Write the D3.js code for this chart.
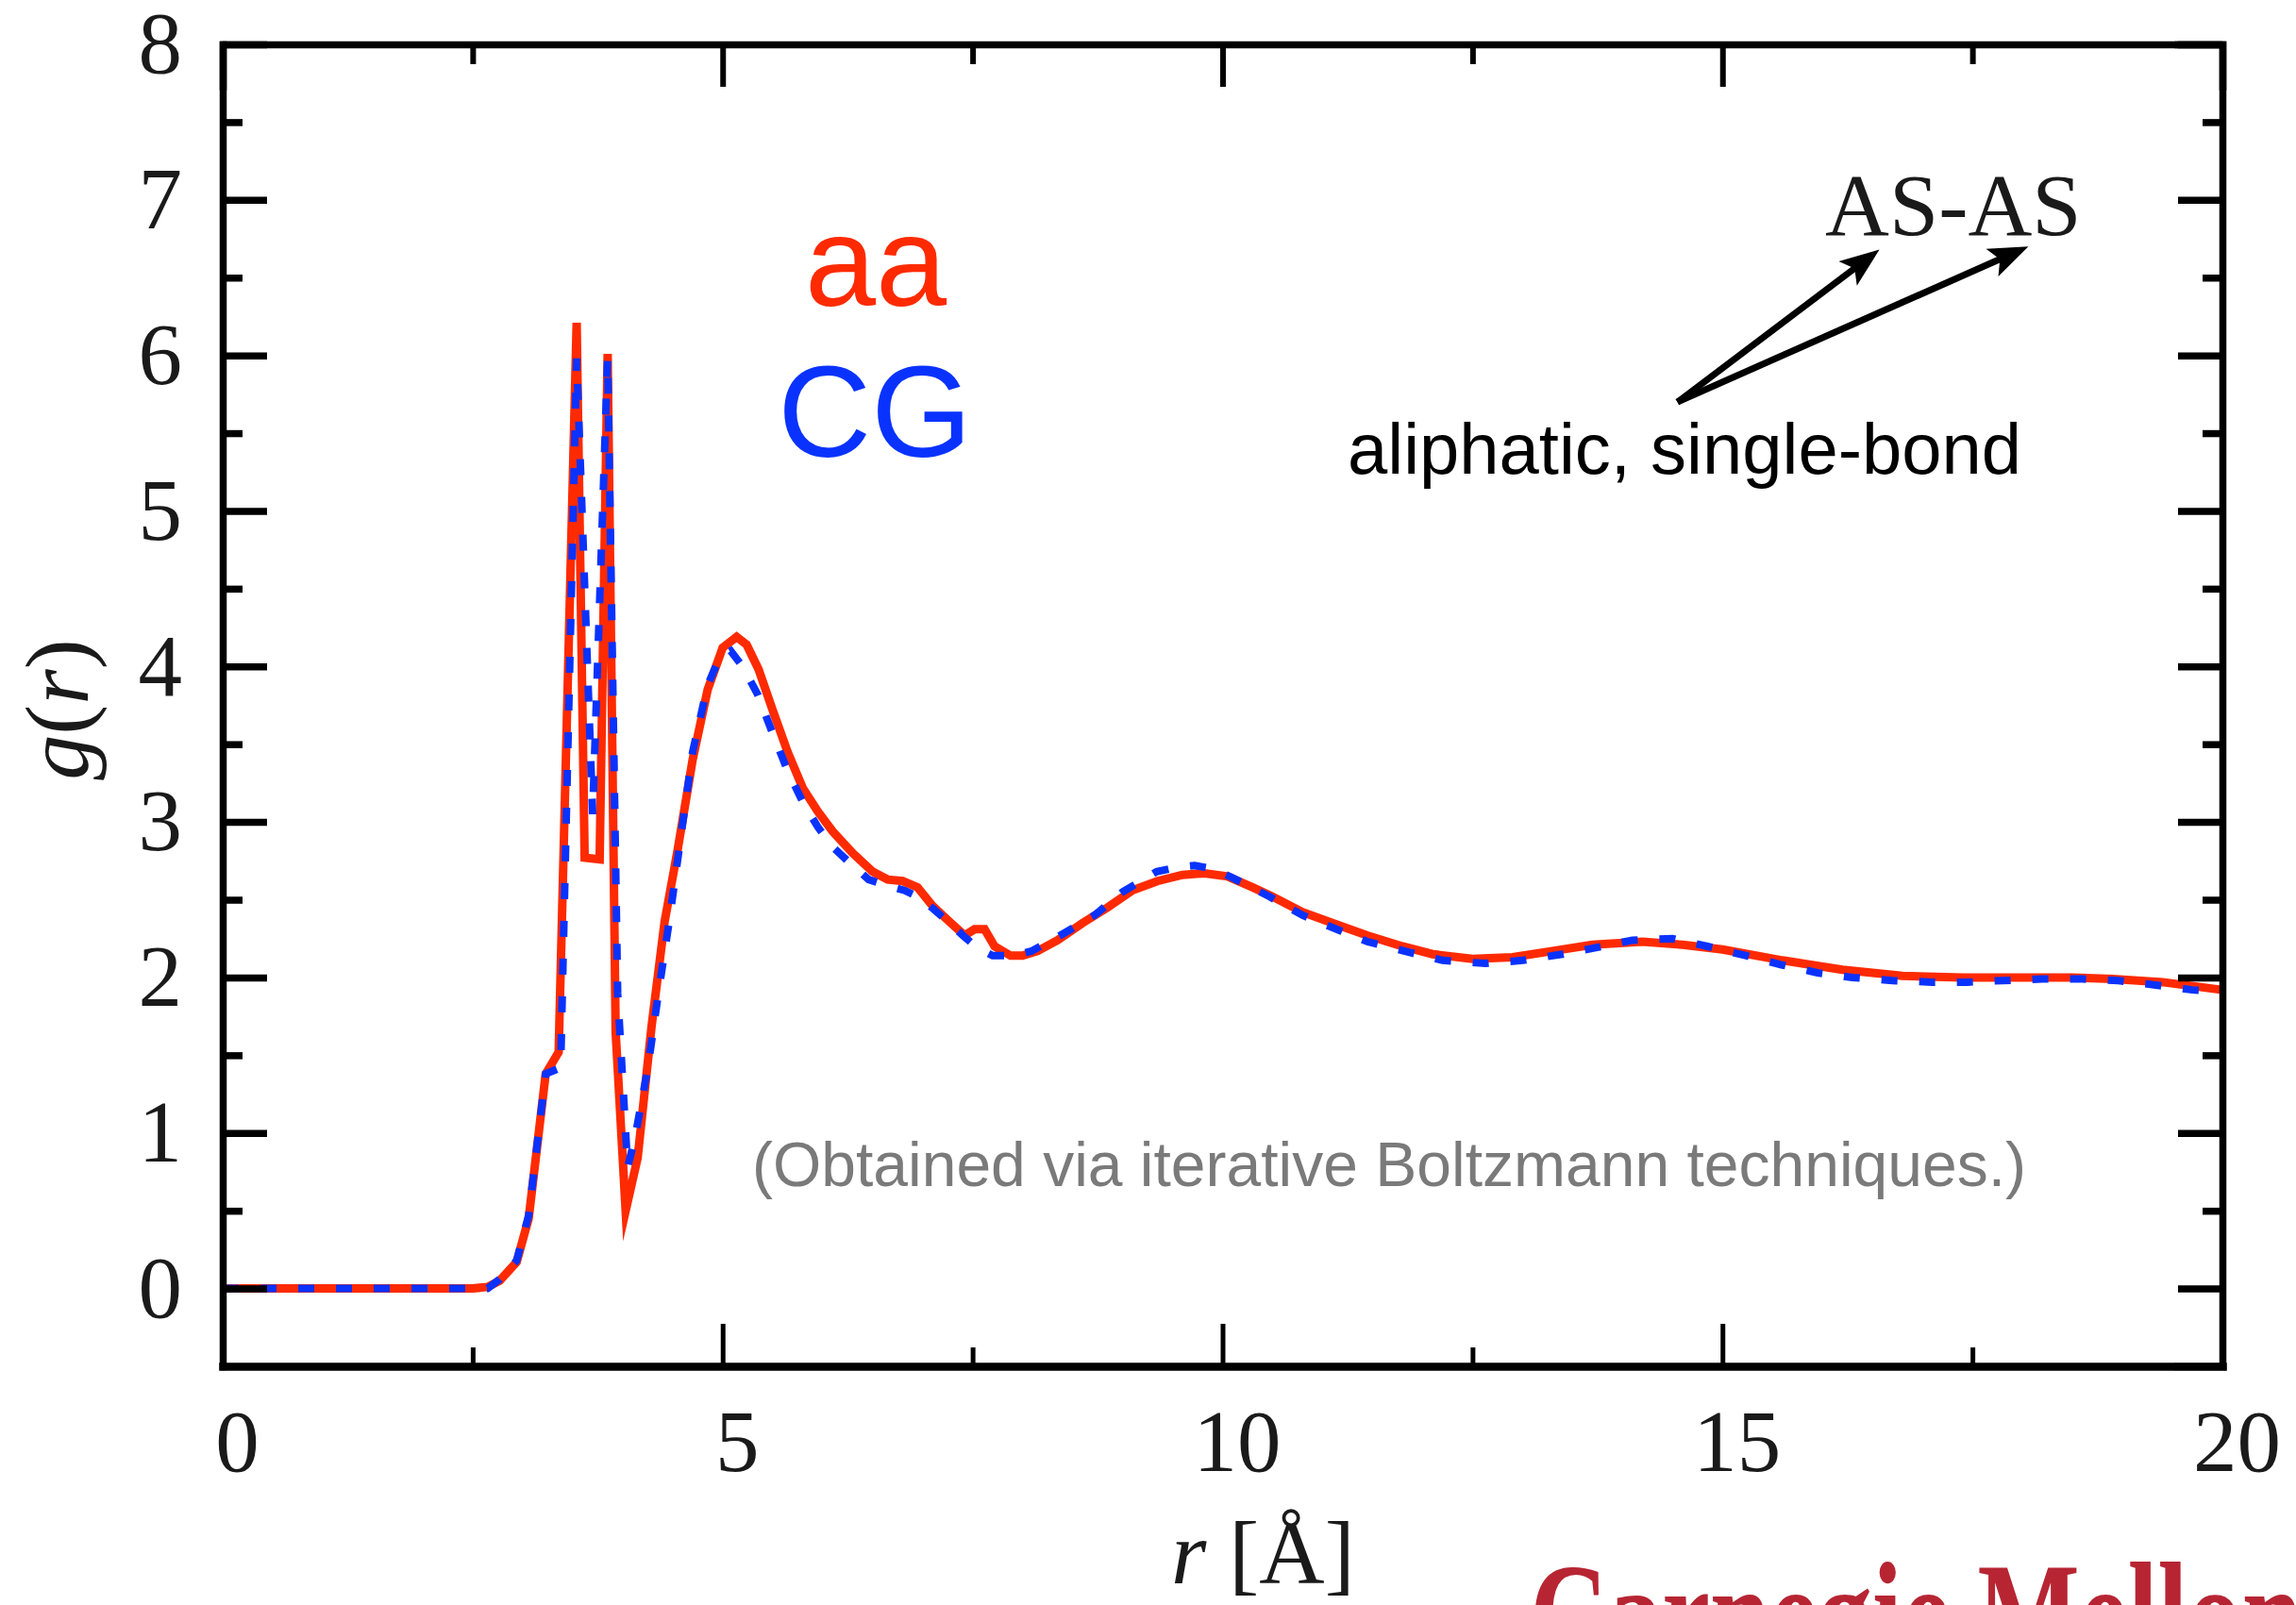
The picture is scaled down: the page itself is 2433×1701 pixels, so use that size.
<!DOCTYPE html>
<html>
<head>
<meta charset="utf-8">
<script src="https://cdn.jsdelivr.net/npm/d3@7"></script>
<style>
body { margin: 0; background: #fff; }
svg { display: block; }
</style>
</head>
<body>
<div id="chart"></div>
<script>
// g(r) for the all-atom (aa) run
const aaR = [0, 0.5, 1, 1.5, 2, 2.5, 2.65, 2.77, 2.94, 3.06, 3.23, 3.36, 3.54, 3.62, 3.77, 3.85, 3.93, 4.03, 4.15, 4.29, 4.42, 4.55, 4.7, 4.85, 5.0, 5.14, 5.24, 5.36, 5.5, 5.65, 5.8, 5.95, 6.1, 6.3, 6.5, 6.65, 6.8, 6.95, 7.1, 7.25, 7.42, 7.52, 7.62, 7.72, 7.88, 8.0, 8.15, 8.35, 8.6, 8.85, 9.1, 9.35, 9.6, 9.82, 10.05, 10.3, 10.5, 10.8, 11.1, 11.45, 11.8, 12.1, 12.5, 12.9, 13.3, 13.7, 14.2, 14.6, 15.0, 15.6, 16.2, 16.8, 17.4, 18.0, 18.5, 18.9, 19.4, 20];
const aaG = [0, 0, 0, 0, 0, 0, 0.01, 0.05, 0.17, 0.45, 1.38, 1.52, 6.21, 2.77, 2.76, 6.01, 1.65, 0.5, 0.84, 1.69, 2.36, 2.82, 3.4, 3.85, 4.12, 4.19, 4.14, 3.98, 3.72, 3.45, 3.22, 3.07, 2.94, 2.8, 2.68, 2.63, 2.62, 2.58, 2.46, 2.37, 2.27, 2.31, 2.31, 2.2, 2.14, 2.14, 2.17, 2.24, 2.35, 2.45, 2.56, 2.62, 2.66, 2.67, 2.65, 2.58, 2.52, 2.42, 2.35, 2.27, 2.2, 2.15, 2.12, 2.13, 2.17, 2.21, 2.23, 2.21, 2.18, 2.11, 2.05, 2.01, 2.0, 2.0, 2.0, 1.99, 1.97, 1.92];

// g(r) for the coarse-grained (CG) run
const cgR = [0, 0.5, 1, 1.5, 2, 2.5, 2.65, 2.77, 2.94, 3.06, 3.23, 3.38, 3.54, 3.70, 3.85, 3.95, 4.05, 4.12, 4.25, 4.36, 4.47, 4.57, 4.7, 4.85, 4.98, 5.08, 5.2, 5.35, 5.5, 5.65, 5.8, 5.95, 6.1, 6.3, 6.46, 6.65, 6.82, 6.95, 7.11, 7.25, 7.42, 7.55, 7.7, 7.9, 8.09, 8.35, 8.72, 9.0, 9.34, 9.55, 9.72, 9.9, 10.1, 10.47, 10.8, 11.18, 11.45, 11.88, 12.2, 12.63, 13.0, 13.4, 13.8, 14.1, 14.5, 14.85, 15.24, 15.6, 15.95, 16.3, 16.7, 17.1, 17.45, 17.8, 18.2, 18.6, 18.96, 19.35, 19.7, 20];
const cgG = [0, 0, 0, 0, 0, 0, 0, 0.06, 0.18, 0.47, 1.38, 1.42, 5.98, 3.05, 5.98, 1.9, 0.78, 0.96, 1.41, 1.91, 2.38, 2.85, 3.45, 3.88, 4.07, 4.1, 4.0, 3.82, 3.57, 3.33, 3.13, 2.97, 2.84, 2.72, 2.63, 2.59, 2.56, 2.52, 2.44, 2.36, 2.26, 2.19, 2.14, 2.14, 2.17, 2.26, 2.4, 2.55, 2.68, 2.71, 2.72, 2.7, 2.64, 2.52, 2.4, 2.3, 2.23, 2.16, 2.11, 2.09, 2.11, 2.15, 2.2, 2.24, 2.25, 2.2, 2.14, 2.08, 2.03, 2.0, 1.98, 1.97, 1.97, 1.98, 1.99, 1.99, 1.98, 1.95, 1.92, 1.91];

const xMajor = [0, 5, 10, 15, 20];
const xMinor = [2.5, 7.5, 12.5, 17.5];
const yMajor = [0, 1, 2, 3, 4, 5, 6, 7, 8];
const yMinor = [0.5, 1.5, 2.5, 3.5, 4.5, 5.5, 6.5, 7.5];

const W = 2433, H = 1701;
const plotL = 236, plotR = 2355, plotT = 47, plotB = 1448;

const svg = d3.select("#chart").append("svg")
    .attr("width", W)
    .attr("height", H);

const x = d3.scaleLinear().domain([0, 20]).range([plotL, plotR]);
const y = d3.scaleLinear().domain([-0.5, 8]).range([plotB, plotT]);

const serif = "'Liberation Serif', 'Times New Roman', serif";
const sans = "'Liberation Sans', Arial, Helvetica, sans-serif";

// curves
const line = d3.line().x(d => x(d[0])).y(d => y(d[1]));

svg.append("path")
    .datum(d3.zip(aaR, aaG))
    .attr("d", line)
    .attr("fill", "none")
    .attr("stroke", "#ff2a00")
    .attr("stroke-width", 9)
    .attr("stroke-linejoin", "miter")
    .attr("stroke-miterlimit", 16);

svg.append("path")
    .datum(d3.zip(cgR, cgG))
    .attr("d", line)
    .attr("fill", "none")
    .attr("stroke", "#0a32ff")
    .attr("stroke-width", 8)
    .attr("stroke-dasharray", "17,23")
    .attr("stroke-linejoin", "miter")
    .attr("stroke-miterlimit", 10);

// frame with inward ticks on all four sides
function styleAxis(g, tickW, frameW) {
    g.select(".domain")
        .attr("stroke", "#000")
        .attr("stroke-width", frameW)
        .attr("stroke-linecap", "square");
    g.selectAll(".tick line")
        .attr("stroke", "#000")
        .attr("stroke-width", tickW);
    g.selectAll("text")
        .style("font-family", serif)
        .style("font-size", "93px")
        .style("fill", "#1a1a1a");
}

const gB = svg.append("g").attr("transform", `translate(0,${plotB})`)
    .call(d3.axisBottom(x).tickValues(xMajor).tickSizeInner(-45).tickSizeOuter(0)
        .tickPadding(45).tickFormat(d3.format("d")));
styleAxis(gB, 5, 8.5);
gB.selectAll("text").attr("dx", 15);

svg.append("g").attr("transform", `translate(0,${plotB})`)
    .call(d3.axisBottom(x).tickValues(xMinor).tickSize(-20).tickFormat(""))
    .call(g => { g.select(".domain").remove(); styleAxis(g, 5, 0); });

const gT = svg.append("g").attr("transform", `translate(0,${plotT})`)
    .call(d3.axisTop(x).tickValues(xMajor).tickSize(-45).tickFormat(""));
styleAxis(gT, 6, 7.5);
svg.append("g").attr("transform", `translate(0,${plotT})`)
    .call(d3.axisTop(x).tickValues(xMinor).tickSize(-21).tickFormat(""))
    .call(g => { g.select(".domain").remove(); styleAxis(g, 6, 0); });

const gL = svg.append("g").attr("transform", `translate(${plotL},0)`)
    .call(d3.axisLeft(y).tickValues(yMajor).tickSizeInner(-47).tickSizeOuter(0)
        .tickPadding(43).tickFormat(d3.format("d")));
styleAxis(gL, 7.5, 7.5);
svg.append("g").attr("transform", `translate(${plotL},0)`)
    .call(d3.axisLeft(y).tickValues(yMinor).tickSize(-21).tickFormat(""))
    .call(g => { g.select(".domain").remove(); styleAxis(g, 7.5, 0); });

const gR = svg.append("g").attr("transform", `translate(${plotR},0)`)
    .call(d3.axisRight(y).tickValues(yMajor).tickSize(-47).tickFormat(""));
styleAxis(gR, 7.5, 7.5);
svg.append("g").attr("transform", `translate(${plotR},0)`)
    .call(d3.axisRight(y).tickValues(yMinor).tickSize(-21).tickFormat(""))
    .call(g => { g.select(".domain").remove(); styleAxis(g, 7.5, 0); });

// axis titles
const yTitle = svg.append("text")
    .attr("transform", `translate(93,752) rotate(-90)`)
    .attr("text-anchor", "middle")
    .style("font-family", serif)
    .style("font-size", "96px")
    .style("fill", "#1a1a1a");
yTitle.append("tspan").style("font-style", "italic").text("g");
yTitle.append("tspan").text("(");
yTitle.append("tspan").style("font-style", "italic").text("r");
yTitle.append("tspan").text(")");

const xTitle = svg.append("text")
    .attr("x", 1241).attr("y", 1678)
    .style("font-family", serif)
    .style("font-size", "96px")
    .style("fill", "#1a1a1a");
xTitle.append("tspan").style("font-style", "italic").text("r");
xTitle.append("tspan").text(" [Å]");

// legend labels
svg.append("text")
    .attr("x", 928).attr("y", 324)
    .attr("text-anchor", "middle")
    .style("font-family", sans).style("font-size", "135px")
    .style("fill", "#ff2a00")
    .text("aa");

svg.append("text")
    .attr("x", 927).attr("y", 484)
    .attr("text-anchor", "middle")
    .style("font-family", sans).style("font-size", "137px")
    .style("fill", "#0a32ff")
    .text("CG");

// annotation
svg.append("text")
    .attr("x", 1934).attr("y", 249)
    .style("font-family", serif).style("font-size", "94px")
    .style("fill", "#1a1a1a")
    .text("AS-AS");

svg.append("text")
    .attr("x", 1428).attr("y", 502)
    .style("font-family", sans).style("font-size", "76px")
    .style("fill", "#000")
    .text("aliphatic, single-bond");

const arrowFrom = [14.55, 5.70];
const arrowTips = [[16.57, 6.68], [18.06, 6.70]];
const headLen = 42, headHalf = 16, notch = 9;
arrowTips.forEach(t => {
    const x0 = x(arrowFrom[0]), y0 = y(arrowFrom[1]);
    const x1 = x(t[0]), y1 = y(t[1]);
    const ang = Math.atan2(y1 - y0, x1 - x0);
    const len = Math.hypot(x1 - x0, y1 - y0);
    const g = svg.append("g")
        .attr("transform", `translate(${x0},${y0}) rotate(${ang * 180 / Math.PI})`);
    g.append("line")
        .attr("x1", 0).attr("y1", 0)
        .attr("x2", len - headLen + notch + 4).attr("y2", 0)
        .attr("stroke", "#000").attr("stroke-width", 7);
    g.append("path")
        .attr("d", `M${len},0 L${len - headLen},${-headHalf} L${len - headLen + notch},0 L${len - headLen},${headHalf} Z`)
        .attr("fill", "#000");
});

svg.append("text")
    .attr("x", 1472).attr("y", 1257)
    .attr("text-anchor", "middle")
    .style("font-family", sans).style("font-size", "66px")
    .style("fill", "#7a7a7a")
    .text("(Obtained via iterative Boltzmann techniques.)");

// wordmark, cut by the bottom edge
svg.append("text")
    .attr("transform", "translate(1621,1763) scale(0.74,1)")
    .style("font-family", serif).style("font-size", "155px")
    .style("font-weight", "bold")
    .style("fill", "#b72533")
    .text("Carnegie Mellon");
</script>
</body>
</html>
